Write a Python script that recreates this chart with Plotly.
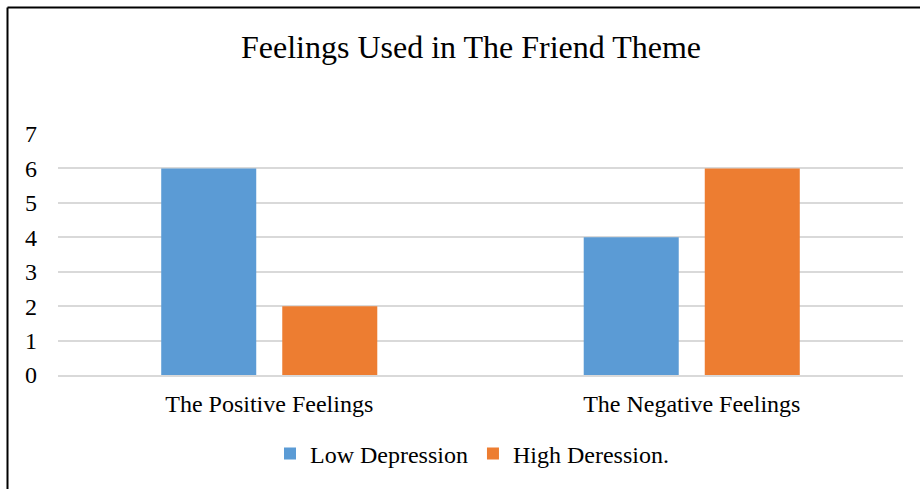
import plotly.graph_objects as go

categories = ["The Positive Feelings", "The Negative Feelings"]
low_depression = [6, 4]
high_depression = [2, 6]
series_names = ["Low Depression", "High Deression."]
title_text = "Feelings Used in The Friend Theme"
y_ticks = [0, 1, 2, 3, 4, 5, 6, 7]

W, H = 920, 489
L, R, T, B = 58, 17, 134, 114
pw, ph = W - L - R, H - T - B

def px_x(p):
    return (p - L) / pw

def px_y(p):
    return (H - B - p) / ph

FONT = "Liberation Serif, Times New Roman, serif"

fig = go.Figure()
fig.add_trace(go.Bar(x=categories, y=low_depression, name=series_names[0],
                     marker=dict(color="#5B9BD5", line=dict(width=0))))
fig.add_trace(go.Bar(x=categories, y=high_depression, name=series_names[1],
                     marker=dict(color="#ED7D31", line=dict(width=0))))

fig.update_layout(
    width=W, height=H,
    margin=dict(l=L, r=R, t=T, b=B, pad=0),
    paper_bgcolor="white", plot_bgcolor="white",
    font=dict(family=FONT, size=24, color="black"),
    barmode="group", bargap=0.427, bargroupgap=0.215,
    title=dict(text=title_text, x=px_x(471), xref="paper", xanchor="center",
               y=1 - 47 / H, yref="container", yanchor="middle",
               font=dict(family=FONT, size=32, color="black")),
    legend=dict(orientation="h", x=px_x(472), xanchor="center",
                y=px_y(454), yanchor="middle",
                font=dict(family=FONT, size=24, color="black"),
                itemwidth=30, traceorder="normal"),
    showlegend=True,
    shapes=[
        dict(type="line", xref="paper", yref="paper",
             x0=px_x(7.5), x1=px_x(921), y0=px_y(7.5), y1=px_y(7.5),
             line=dict(color="black", width=2)),
        dict(type="line", xref="paper", yref="paper",
             x0=px_x(7.5), x1=px_x(7.5), y0=px_y(7.5), y1=px_y(490),
             line=dict(color="black", width=2)),
    ],
)
fig.update_yaxes(range=[0, 7], tickvals=y_ticks, showgrid=True,
                 gridcolor="#d9d9d9", gridwidth=1.5, zeroline=False,
                 showline=False, ticks="", ticklabelstandoff=20,
                 tickfont=dict(family=FONT, size=24))
fig.update_xaxes(showline=True, linecolor="#d9d9d9", linewidth=1.5,
                 ticks="", ticklabelstandoff=6,
                 tickfont=dict(family=FONT, size=24))

fig.write_html("out.html")
